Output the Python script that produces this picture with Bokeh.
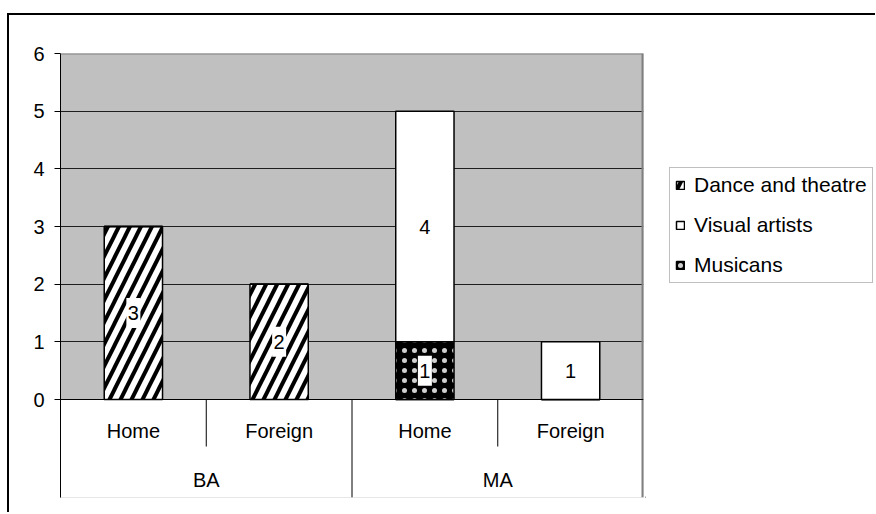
from bokeh.plotting import figure
from bokeh.layouts import row
from bokeh.models import (FactorRange, Range1d, ColumnDataSource, LabelSet, Legend, LegendItem,
                          CategoricalAxis, FixedTicker, BoxAnnotation, Span)
from bokeh.core.properties import value
from bokeh.embed import file_html
from bokeh.resources import INLINE

# ---- data ----
groups = ["BA", "BA", "MA", "MA"]
places = ["Home", "Foreign", "Home", "Foreign"]
dance = [3, 2, 0, 0]
musicans = [0, 0, 1, 0]
visual = [0, 0, 4, 1]
y_ticks = [0, 1, 2, 3, 4, 5, 6]
group_names = ["BA", "MA"]
series_names = {"dance": "Dance and theatre", "visual": "Visual artists", "musicans": "Musicans"}

FONT = "Liberation Sans"
factors = list(zip(groups, places))

# ---- layout (pixels) ----
PLOT_H = 346          # pixels for the 0..6 value span
AXIS_H = 98           # pixels of category-axis area under zero
INNER_H = 47          # pixels of short separators
y_top = max(y_ticks)
y_bottom = -y_top * AXIS_H / PLOT_H
inner_depth = -y_top * INNER_H / PLOT_H

styles = {
    "dance": dict(fill_color="white", hatch_pattern="/", hatch_color="black",
                  hatch_scale=22, hatch_weight=4),
    "musicans": dict(fill_color="black", hatch_pattern=".", hatch_color="#d0d0d0",
                     hatch_scale=10, hatch_weight=1.5),
    "visual": dict(fill_color="white", hatch_pattern=" ", hatch_color="black",
                   hatch_scale=10, hatch_weight=1),
}
stack_keys = ["dance", "musicans", "visual"]

x_range = FactorRange(*factors, factor_padding=0, group_padding=0, range_padding=0)
p = figure(width=636, height=497, x_range=x_range, y_range=Range1d(y_bottom, y_top),
           output_backend="svg", toolbar_location=None,
           min_border_left=51, min_border_right=2, min_border_top=38, min_border_bottom=15,
           background_fill_color="#c0c0c0", border_fill_color="white", outline_line_color=None)

# white area under zero (category axis area)
p.add_layout(BoxAnnotation(top=0, fill_color="white", fill_alpha=1, line_color=None, level="underlay"))

# grid
p.xgrid.visible = False
p.ygrid.ticker = FixedTicker(ticks=y_ticks[1:-1])
p.ygrid.grid_line_color = "#1e1e1e"
p.ygrid.grid_line_width = 1

# bars
src = ColumnDataSource(dict(x=factors, dance=dance, musicans=musicans, visual=visual))
rs = p.vbar_stack(stack_keys, x="x", width=0.4, source=src,
                  line_color="black", line_width=1.5,
                  fill_color=[styles[k]["fill_color"] for k in stack_keys],
                  hatch_pattern=[styles[k]["hatch_pattern"] for k in stack_keys],
                  hatch_color=[styles[k]["hatch_color"] for k in stack_keys],
                  hatch_scale=[styles[k]["hatch_scale"] for k in stack_keys],
                  hatch_weight=[styles[k]["hatch_weight"] for k in stack_keys])

# data labels (white box behind each value)
lx, ly, lt = [], [], []
base = [0] * len(factors)
for key, vals in (("dance", dance), ("musicans", musicans), ("visual", visual)):
    for i, v in enumerate(vals):
        if v > 0:
            lx.append(factors[i]); ly.append(base[i] + v / 2); lt.append(str(v))
        base[i] += v
lsrc = ColumnDataSource(dict(x=lx, y=ly, t=lt))
p.rect(x="x", y="y", width=14, height=30, width_units="screen", height_units="screen",
       source=lsrc, fill_color="white", line_color=None)
lbl = LabelSet(x="x", y="y", text="t", source=lsrc,
               text_align="center", text_baseline="middle",
               text_font=value(FONT), text_font_size="20px", text_color="black")
p.add_layout(lbl)

# separators in the category axis area
sx, sy0, sy1, sc, sw = [], [], [], [], []
for i, (g, pl) in enumerate(factors):
    is_group_start = i == 0 or groups[i - 1] != g
    sx.append((g, pl, -0.5)); sy0.append(0)
    sy1.append(y_bottom if is_group_start else inner_depth); sc.append("black"); sw.append(1)
g, pl = factors[-1]
sx.append((g, pl, 0.5)); sy0.append(y_top); sy1.append(y_bottom); sc.append("#808080"); sw.append(4)
sep = ColumnDataSource(dict(x=sx, y0=sy0, y1=sy1, c=sc, w=sw))
p.segment(x0="x", y0="y0", x1="x", y1="y1", source=sep, line_color="c", line_width="w")

# top edge of plot area
p.add_layout(Span(location=y_top, dimension="width", line_color="#808080", line_width=2))

# y axis
ya = p.yaxis[0]
ya.ticker = FixedTicker(ticks=y_ticks)
ya.major_tick_out = 6
ya.major_tick_in = 0
ya.minor_tick_line_color = None
ya.axis_line_color = "black"
ya.major_tick_line_color = "black"
ya.major_label_text_font = FONT
ya.major_label_text_font_size = "20px"
ya.major_label_text_color = "black"
ya.major_label_standoff = 10

# x axis (inner level)
xa = p.xaxis[0]
xa.fixed_location = 0
xa.major_tick_line_color = None
xa.minor_tick_line_color = None
xa.axis_line_color = "black"
xa.major_label_text_font = FONT
xa.major_label_text_font_size = "20px"
xa.major_label_text_color = "black"
xa.major_label_standoff = 14
xa.group_text_color = None
xa.separator_line_color = None

# x axis (outer level)
p.extra_x_ranges = {"grp": FactorRange(*group_names, range_padding=0)}
ga = CategoricalAxis(x_range_name="grp", fixed_location=0, axis_line_color=None,
                     major_tick_line_color=None, minor_tick_line_color=None,
                     major_label_text_font=FONT, major_label_text_font_size="20px",
                     major_label_text_color="black", major_label_standoff=63)
p.add_layout(ga, "below")

# legend panel (separate canvas so the legend is not clipped by the plot area)
q = figure(width=230, height=497, x_axis_type=None, y_axis_type=None,
           x_range=Range1d(0, 1), y_range=Range1d(0, 1),
           output_backend="svg", toolbar_location=None,
           min_border_left=0, min_border_right=0, min_border_top=0, min_border_bottom=0,
           outline_line_color=None, background_fill_color="white", border_fill_color="white")
q.xgrid.visible = False
q.ygrid.visible = False
# key swatches: one off-canvas sample per series (only the legend shows them)
key_renderers = {}
for k in stack_keys:
    key_renderers[k] = q.vbar(x=[-1], top=[0], width=0.4, line_color="black", line_width=1.5,
                              **styles[k])
legend = Legend(items=[LegendItem(label=series_names[k], renderers=[key_renderers[k]])
                       for k in ("dance", "visual", "musicans")],
                location=(24, 214), orientation="vertical",
                label_text_font=FONT, label_text_font_size="21px", label_text_color="black",
                glyph_width=10, glyph_height=10, label_height=23, spacing=16,
                padding=5, margin=0, label_standoff=9,
                border_line_color="#808080", border_line_width=1,
                background_fill_color="white", background_fill_alpha=1)
q.add_layout(legend)

layout = row(p, q, spacing=0)
layout.styles = {"margin-left": "7px", "margin-top": "13px",
                 "border-left": "2px solid black", "border-top": "2px solid black"}

open("out.html", "w").write(file_html(layout, INLINE))
